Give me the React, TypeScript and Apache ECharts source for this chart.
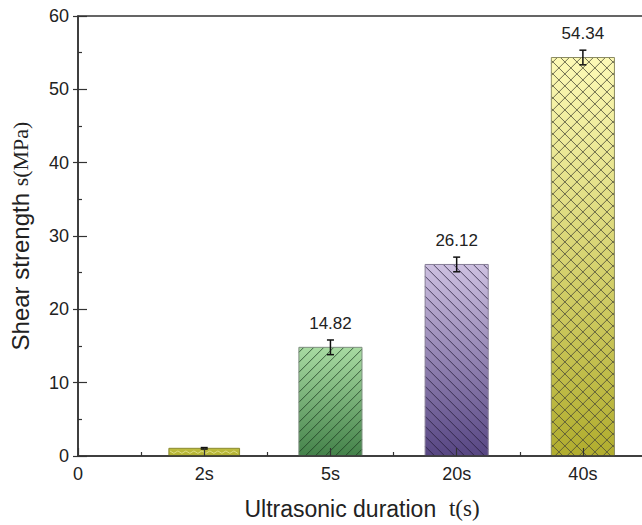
import React, { useEffect, useRef } from 'react';
import * as echarts from 'echarts';

// ---- data ----
const categories = ['2s', '5s', '20s', '40s'];
const positions = [1, 2, 3, 4];
const strength = [1.05, 14.82, 26.12, 54.34];
const errors = [0.1, 1.0, 1.0, 1.0];
const valueLabels = ['', '14.82', '26.12', '54.34'];
const xTickLabels = ['0', ...categories];

// ---- styles ----
const BAR_STYLES = [
  { width: 0.56, top: '#bebd40', bottom: '#b2b132', hatch: 'wave', hatchColor: '#dede86', border: '#8a8a30' },
  { width: 0.5, top: '#a8dba2', bottom: '#44824a', hatch: 'fwd', hatchColor: 'rgba(25,55,30,0.75)', border: '#7f8f80' },
  { width: 0.5, top: '#cdc0e0', bottom: '#574683', hatch: 'back', hatchColor: 'rgba(35,25,55,0.75)', border: '#857d95' },
  { width: 0.5, top: '#fdfab6', bottom: '#b1ad2e', hatch: 'cross', hatchColor: 'rgba(75,75,55,0.8)', border: '#8c8c62' },
];
const HATCH_STEP = 10;

function hatchLines(x0: number, y0: number, x1: number, y1: number, kind: string, color: string) {
  const out: any[] = [];
  const style = { stroke: color, lineWidth: 1 };
  if (kind === 'fwd' || kind === 'cross') {
    const step = kind === 'cross' ? 12 : HATCH_STEP;
    for (let c = x0 + y0 + step / 2; c < x1 + y1; c += step) {
      const xa = Math.max(x0, c - y1);
      const xb = Math.min(x1, c - y0);
      if (xb > xa) out.push({ type: 'line', shape: { x1: xa, y1: c - xa, x2: xb, y2: c - xb }, style, silent: true });
    }
  }
  if (kind === 'back' || kind === 'cross') {
    const step = kind === 'cross' ? 12 : HATCH_STEP;
    for (let c = y0 - x1 + step / 2; c < y1 - x0; c += step) {
      const xa = Math.max(x0, y0 - c);
      const xb = Math.min(x1, y1 - c);
      if (xb > xa) out.push({ type: 'line', shape: { x1: xa, y1: xa + c, x2: xb, y2: xb + c }, style, silent: true });
    }
  }
  if (kind === 'wave') {
    const ym = (y0 + y1) / 2;
    const pts: number[][] = [];
    let up = true;
    for (let x = x0 + 1; x <= x1 - 1; x += 4) {
      pts.push([x, ym + (up ? -1.2 : 1.2)]);
      up = !up;
    }
    out.push({ type: 'polyline', shape: { points: pts }, style: { stroke: color, lineWidth: 1, fill: 'none' }, silent: true });
  }
  return out;
}

const seriesData = positions.map((p, i) => [p, strength[i], errors[i], i]);

export default function App() {
  const ref = useRef<HTMLDivElement>(null);
  useEffect(() => {
    if (!ref.current) return;
    const chart = echarts.init(ref.current, undefined, { renderer: 'svg' });
    const axisColor = '#333';
    chart.setOption({
      animation: false,
      backgroundColor: '#fff',
      grid: { left: 77, top: 16, right: 14, bottom: 65, show: true, borderColor: axisColor, borderWidth: 1.5, backgroundColor: 'transparent' },
      xAxis: {
        type: 'value',
        min: 0,
        max: 4.5,
        interval: 1,
        z: 10,
        axisLine: { show: true, lineStyle: { color: axisColor, width: 1.5 } },
        axisTick: { show: true, inside: true, length: 8, lineStyle: { color: axisColor, width: 1.2 } },
        minorTick: { show: true, splitNumber: 2, length: 4, lineStyle: { color: axisColor, width: 1.2 } },
        splitLine: { show: false },
        axisLabel: {
          margin: 9,
          fontFamily: 'Arial, Liberation Sans, sans-serif',
          fontSize: 18,
          color: '#222',
          formatter: (v: number) => (Number.isInteger(v) && v < xTickLabels.length ? xTickLabels[v] : ''),
        },
        name: '{a|Ultrasonic duration  }{b|t(s)}',
        nameLocation: 'middle',
        nameGap: 41,
        nameTextStyle: {
          rich: {
            a: { fontFamily: 'Arial, Liberation Sans, sans-serif', fontSize: 23, color: '#222' },
            b: { fontFamily: 'Liberation Serif, Times New Roman, serif', fontSize: 23, color: '#222' },
          },
        },
      },
      yAxis: [
        {
          type: 'value',
          min: 0,
          max: 60,
          interval: 10,
          z: 10,
          axisLine: { show: true, lineStyle: { color: axisColor, width: 1.5 } },
          axisTick: { show: true, inside: true, length: 9, lineStyle: { color: axisColor, width: 1.2 } },
          minorTick: { show: true, splitNumber: 2, length: 4, lineStyle: { color: axisColor, width: 1.2 } },
          splitLine: { show: false },
          axisLabel: { margin: 9, fontFamily: 'Arial, Liberation Sans, sans-serif', fontSize: 18, color: '#222' },
          name: '{a|Shear strength }{b|s(MPa)}',
          nameLocation: 'middle',
          nameGap: 46,
          nameTextStyle: {
            rich: {
              a: { fontFamily: 'Arial, Liberation Sans, sans-serif', fontSize: 24, color: '#222' },
              b: { fontFamily: 'Liberation Serif, Times New Roman, serif', fontSize: 22, color: '#222' },
            },
          },
        },
        {
          type: 'value',
          position: 'left',
          min: 0,
          max: 60,
          interval: 10,
          z: 10,
          axisLine: { show: false },
          axisTick: { show: true, inside: false, length: 5, lineStyle: { color: axisColor, width: 1.2 } },
          axisLabel: { show: false },
          splitLine: { show: false },
        },
      ],
      series: [
        {
          type: 'custom',
          z: 2,
          data: seriesData,
          renderItem: (params: any, api: any) => {
            const x = api.value(0);
            const v = api.value(1);
            const e = api.value(2);
            const idx = api.value(3);
            const st = BAR_STYLES[idx];
            const base = api.coord([x, 0]);
            const topPt = api.coord([x, v]);
            const w = api.size([st.width, 0])[0];
            const x0 = base[0] - w / 2;
            const x1 = base[0] + w / 2;
            const y0 = topPt[1];
            const y1 = base[1];
            const eTop = api.coord([x, v + e])[1];
            const eBot = api.coord([x, v - e])[1];
            const cx = base[0];
            const children: any[] = [
              {
                type: 'rect',
                shape: { x: x0, y: y0, width: w, height: y1 - y0 },
                style: {
                  fill: new echarts.graphic.LinearGradient(0, 0, 0, 1, [
                    { offset: 0, color: st.top },
                    { offset: 1, color: st.bottom },
                  ]),
                  stroke: 'none',
                },
              },
              ...hatchLines(x0, y0, x1, y1, st.hatch, st.hatchColor),
              {
                type: 'rect',
                shape: { x: x0, y: y0, width: w, height: y1 - y0 },
                style: { fill: 'none', stroke: st.border, lineWidth: 1 },
              },
              { type: 'line', shape: { x1: cx, y1: eTop, x2: cx, y2: eBot }, style: { stroke: '#111', lineWidth: 1.5 } },
              { type: 'line', shape: { x1: cx - 3.5, y1: eTop, x2: cx + 3.5, y2: eTop }, style: { stroke: '#111', lineWidth: 1.5 } },
              { type: 'line', shape: { x1: cx - 3.5, y1: eBot, x2: cx + 3.5, y2: eBot }, style: { stroke: '#111', lineWidth: 1.5 } },
            ];
            if (valueLabels[idx]) {
              children.push({
                type: 'text',
                x: cx,
                y: eTop - 8,
                style: {
                  text: valueLabels[idx],
                  fill: '#222',
                  font: '17px Arial, Liberation Sans, sans-serif',
                  textAlign: 'center',
                  textVerticalAlign: 'bottom',
                },
              });
            }
            return { type: 'group', children };
          },
        },
      ],
    });
    return () => chart.dispose();
  }, []);
  return (
    <div style={{ position: 'fixed', left: 0, top: 0, width: 642, height: 525, overflow: 'hidden', background: '#fff' }}>
      <div ref={ref} style={{ width: 660, height: 525 }} />
    </div>
  );
}
